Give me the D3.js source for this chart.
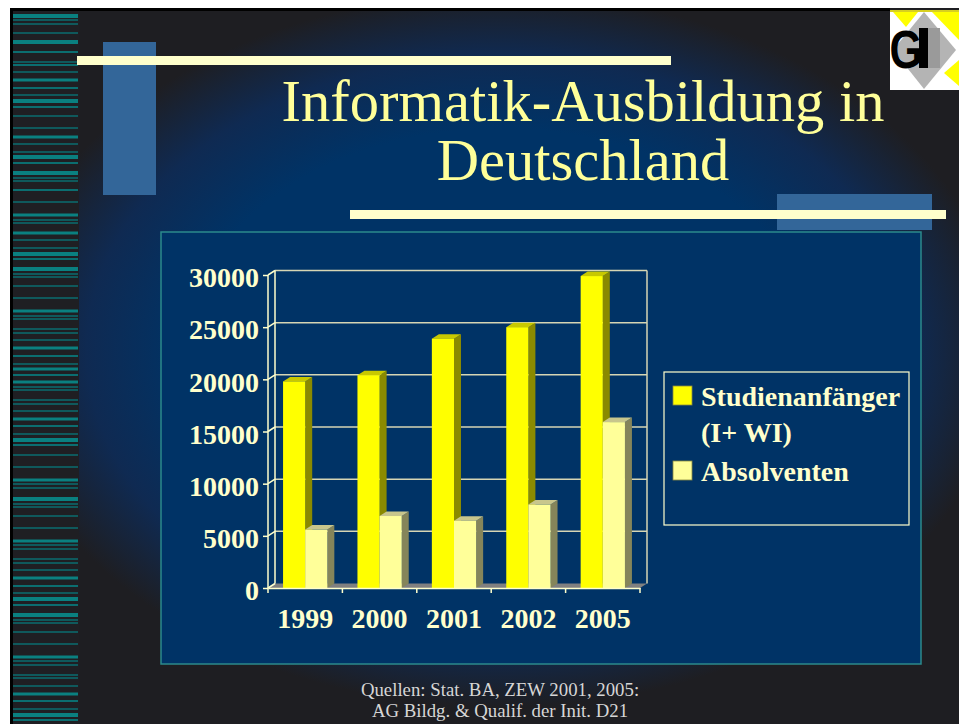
<!DOCTYPE html>
<html>
<head>
<meta charset="utf-8">
<script src="https://cdn.jsdelivr.net/npm/d3@7"></script>
<style>
  body { margin: 0; background: #fff; }
  svg { display: block; }
</style>
</head>
<body>
<svg id="chart" width="959" height="724"></svg>
<script>
// data
const years = ['1999', '2000', '2001', '2002', '2005'];
const seriesKeys = ['anfaenger', 'absolventen'];
const anfaenger = [19800, 20400, 23900, 25000, 29900];
const absolventen = [5600, 6900, 6450, 8000, 15900];
const yTicks = [0, 5000, 10000, 15000, 20000, 25000, 30000];
const legendLines = [['Studienanfänger', '(I+ WI)'], ['Absolventen']];

// decorative stripes on the left edge: [y, thickness]
const stripes = [
  [16, 4], [20, 1.5], [24, 1.5], [33, 1.5], [42, 4], [52, 2], [62, 1.5], [65, 2], [72, 1.5],
  [80, 3], [88, 2], [95, 1.5], [101, 4], [107, 2], [116, 1.5], [128, 1.5], [137, 3], [144, 1.5],
  [152, 1.5], [157, 4], [163, 2], [173, 4], [178, 1.5], [181, 1.5], [190, 2], [202, 1.5],
  [215, 3], [220, 1.5], [223, 1.5], [233, 3], [240, 1.5], [248, 1.5], [254, 4], [259, 2],
  [269, 4], [274, 1.5], [277, 1.5], [286, 1.5], [298, 1.5], [311, 3], [316, 1.5], [319, 1.5],
  [329, 1.5], [333, 1.5], [340, 1.5], [348, 3], [356, 2], [364, 1.5], [369, 3], [375, 2],
  [382, 3], [387, 1.5], [390, 1.5], [400, 1.5], [404, 1.5], [411, 1.5], [419, 3], [426, 2],
  [434, 1.5], [440, 4], [445, 2], [455, 1.5], [467, 1.5], [480, 3], [484, 1.5], [488, 1.5],
  [499, 4], [504, 1.5], [507, 1.5], [516, 1.5], [528, 1.5], [541, 3], [545, 1.5], [549, 1.5],
  [559, 1.5], [563, 1.5], [570, 1.5], [578, 3], [586, 2], [593, 1.5], [599, 4], [605, 2],
  [615, 4], [620, 1.5], [623, 1.5], [632, 1.5], [644, 1.5], [657, 3], [661, 1.5], [665, 1.5],
  [675, 1.5], [678, 1.5], [686, 1.5], [694, 3], [701, 2], [709, 1.5], [715, 4], [720, 2]
];

const svg = d3.select('#chart');
const serif = '"Liberation Serif", "Times New Roman", serif';

// ---------- slide background ----------
const defs = svg.append('defs');
const grad = defs.append('radialGradient')
  .attr('id', 'bg')
  .attr('gradientUnits', 'userSpaceOnUse')
  .attr('cx', 500).attr('cy', 350).attr('r', 420)
  .attr('gradientTransform', 'translate(500,350) scale(1.2,0.85) translate(-500,-350)');
grad.append('stop').attr('offset', 0).attr('stop-color', '#003366');
grad.append('stop').attr('offset', 0.62).attr('stop-color', '#003366');
grad.append('stop').attr('offset', 0.82).attr('stop-color', '#0f2a52');
grad.append('stop').attr('offset', 1).attr('stop-color', '#1e1e22');

svg.append('rect').attr('x', 10).attr('y', 8).attr('width', 949).attr('height', 716)
  .attr('fill', 'url(#bg)');
svg.append('rect').attr('x', 13).attr('y', 11).attr('width', 66).attr('height', 713)
  .attr('fill', '#1f1f23');
svg.append('rect').attr('x', 10).attr('y', 8).attr('width', 880).attr('height', 3).attr('fill', '#000');
svg.append('rect').attr('x', 10).attr('y', 8).attr('width', 3).attr('height', 716).attr('fill', '#000');

svg.append('g').selectAll('rect')
  .data(stripes)
  .join('rect')
  .attr('x', 13)
  .attr('y', d => d[0] - d[1] / 2)
  .attr('width', 65)
  .attr('height', d => d[1])
  .attr('fill', d => d[1] >= 3 ? '#0a8080' : '#0b6e70');

// decorative blocks and bars
svg.append('rect').attr('x', 103).attr('y', 42).attr('width', 53).attr('height', 153).attr('fill', '#336699');
svg.append('rect').attr('x', 777).attr('y', 194).attr('width', 155).attr('height', 36).attr('fill', '#336699');
svg.append('rect').attr('x', 77).attr('y', 56).attr('width', 594).attr('height', 9).attr('fill', '#ffffcc');
svg.append('rect').attr('x', 350).attr('y', 210).attr('width', 596).attr('height', 9).attr('fill', '#ffffcc');

// logo
const logo = svg.append('g');
logo.append('rect').attr('x', 890).attr('y', 10).attr('width', 69).attr('height', 80).attr('fill', '#fff');
logo.append('polygon').attr('points', '893,12 918,12 906,27').attr('fill', '#ffff00');
logo.append('polygon').attr('points', '932,12 959,12 959,40').attr('fill', '#ffff00');
logo.append('polygon').attr('points', '959,60 959,86 944,73').attr('fill', '#ffff00');
logo.append('polygon').attr('points', '924,12 956,50 924,89 893,50').attr('fill', '#b4b4b4');
logo.append('rect').attr('x', 890).attr('y', 10).attr('width', 69).attr('height', 2).attr('fill', '#d8d020');
logo.append('rect').attr('x', 928).attr('y', 28).attr('width', 12).attr('height', 40).attr('fill', '#9a9a9a');
logo.append('text')
  .attr('transform', 'translate(906,68) scale(0.78,1)')
  .attr('text-anchor', 'middle')
  .attr('font-family', '"Liberation Sans", Arial, sans-serif').attr('font-weight', 'bold')
  .attr('font-size', 54).attr('fill', '#000').text('G');
logo.append('rect').attr('x', 919).attr('y', 28).attr('width', 9).attr('height', 40).attr('fill', '#000');

// title
const title = svg.append('g')
  .attr('font-family', serif)
  .attr('font-size', 58.5)
  .attr('fill', '#ffff99')
  .attr('text-anchor', 'middle');
title.append('text').attr('x', 583).attr('y', 121).text('Informatik-Ausbildung in');
title.append('text').attr('x', 583).attr('y', 180).text('Deutschland');

// chart panel
svg.append('rect').attr('x', 161).attr('y', 232).attr('width', 760).attr('height', 432)
  .attr('fill', '#003366').attr('stroke', '#2b8a8c').attr('stroke-width', 1.5);

// ---------- 3D column chart ----------
const dx = 7, dy = -4.5;

const x0 = d3.scaleBand().domain(years).range([268, 640]).padding(0);
const x1 = d3.scaleBand().domain(seriesKeys).range([0, x0.bandwidth()])
  .paddingInner(0).paddingOuter(0.68);
const y = d3.scaleLinear().domain([0, 30000]).range([588, 275]);

const values = { anfaenger: anfaenger, absolventen: absolventen };
const faces = {
  anfaenger: { front: '#ffff00', side: '#8a8a00', top: '#c8c800' },
  absolventen: { front: '#ffff99', side: '#85855a', top: '#c8c68c' }
};

const plot = svg.append('g');
const xL = x0.range()[0], xR = x0.range()[1];

// floor
plot.append('polygon')
  .attr('points', [[xL, y(0)], [xL + dx, y(0) + dy], [xR + dx, y(0) + dy], [xR, y(0)]].join(' '))
  .attr('fill', '#808080');

// back wall gridlines and edges
plot.append('g').selectAll('line')
  .data(yTicks.slice(1))
  .join('line')
  .attr('x1', xL + dx).attr('x2', xR + dx)
  .attr('y1', d => y(d) + dy).attr('y2', d => y(d) + dy)
  .attr('stroke', '#d6d6b4').attr('stroke-width', 1.5);
plot.append('line')
  .attr('x1', xL + dx).attr('x2', xL + dx)
  .attr('y1', y(30000) + dy).attr('y2', y(0) + dy)
  .attr('stroke', '#ffffcc').attr('stroke-width', 1.5);
plot.append('line')
  .attr('x1', xR + dx).attr('x2', xR + dx)
  .attr('y1', y(30000) + dy).attr('y2', y(0) + dy)
  .attr('stroke', '#d6d6b4').attr('stroke-width', 1.5);
// connectors from front axis to the wall
plot.append('g').selectAll('line')
  .data(yTicks)
  .join('line')
  .attr('x1', xL).attr('x2', xL + dx)
  .attr('y1', d => y(d)).attr('y2', d => y(d) + dy)
  .attr('stroke', '#ffffcc').attr('stroke-width', 1.5);

// bars
const barData = [];
years.forEach((yr, i) => {
  seriesKeys.forEach(k => barData.push({ year: yr, key: k, value: values[k][i] }));
});

const bars = plot.append('g').selectAll('g')
  .data(barData)
  .join('g');

bars.append('polygon')
  .attr('points', d => {
    const fx = x0(d.year) + x1(d.key), w = x1.bandwidth(), t = y(d.value), b = y(0);
    return [[fx + w, b], [fx + w + dx, b + dy], [fx + w + dx, t + dy], [fx + w, t]].join(' ');
  })
  .attr('fill', d => faces[d.key].side);

bars.append('polygon')
  .attr('points', d => {
    const fx = x0(d.year) + x1(d.key), w = x1.bandwidth(), t = y(d.value);
    return [[fx, t], [fx + dx, t + dy], [fx + w + dx, t + dy], [fx + w, t]].join(' ');
  })
  .attr('fill', d => faces[d.key].top);

bars.append('rect')
  .attr('x', d => x0(d.year) + x1(d.key))
  .attr('y', d => y(d.value))
  .attr('width', x1.bandwidth())
  .attr('height', d => y(0) - y(d.value))
  .attr('fill', d => faces[d.key].front);

// front axes
const yAxis = svg.append('g')
  .attr('transform', `translate(${xL},0)`)
  .call(d3.axisLeft(y).tickValues(yTicks).tickSize(5).tickPadding(4).tickFormat(d3.format('d')));
yAxis.select('.domain').attr('stroke', '#ffffcc').attr('stroke-width', 1.5)
  .attr('d', `M0,${y(30000)}V${y(0)}`);
yAxis.selectAll('.tick line').attr('stroke', '#ffffcc').attr('stroke-width', 1.5);
yAxis.selectAll('.tick text')
  .attr('fill', '#ffffcc')
  .attr('font-family', serif)
  .attr('font-weight', 'bold')
  .attr('font-size', 28)
  .attr('dy', '0.42em');

const xAxis = svg.append('g')
  .attr('transform', `translate(0,${y(0)})`)
  .call(d3.axisBottom(x0).tickSize(0).tickPadding(20));
xAxis.select('.domain').attr('stroke', '#ffffcc').attr('stroke-width', 1.5);
xAxis.selectAll('.tick text')
  .attr('fill', '#ffffcc')
  .attr('font-family', serif)
  .attr('font-weight', 'bold')
  .attr('font-size', 28);
xAxis.append('g').selectAll('line')
  .data(years.map(yr => x0(yr)).concat([xR]))
  .join('line')
  .attr('x1', d => d).attr('x2', d => d)
  .attr('y1', 0).attr('y2', 5)
  .attr('stroke', '#ffffcc').attr('stroke-width', 1.5);

// legend
const legend = svg.append('g');
legend.append('rect').attr('x', 664).attr('y', 372).attr('width', 245).attr('height', 153)
  .attr('fill', 'none').attr('stroke', '#ffffcc').attr('stroke-width', 1.2);

const legendY = [405.5, 480.5];
seriesKeys.forEach((k, i) => {
  legend.append('rect')
    .attr('x', 673).attr('y', legendY[i] - 19.5)
    .attr('width', 19).attr('height', 19)
    .attr('fill', faces[k].front)
    .attr('stroke', '#8a8a40').attr('stroke-width', 0.8);
  legend.append('text')
    .attr('x', 701).attr('y', legendY[i])
    .attr('font-family', serif).attr('font-weight', 'bold').attr('font-size', 28)
    .attr('fill', '#ffffcc')
    .selectAll('tspan')
    .data(legendLines[i])
    .join('tspan')
    .attr('x', 701)
    .attr('dy', (d, j) => j === 0 ? 0 : 36)
    .text(d => d);
});

// source note
const note = svg.append('g')
  .attr('font-family', serif).attr('font-size', 18.8)
  .attr('fill', '#d6d6d6').attr('text-anchor', 'middle');
note.append('text').attr('x', 500).attr('y', 696).text('Quellen: Stat. BA, ZEW 2001, 2005:');
note.append('text').attr('x', 500).attr('y', 717).text('AG Bildg. & Qualif. der Init. D21');
</script>
</body>
</html>
